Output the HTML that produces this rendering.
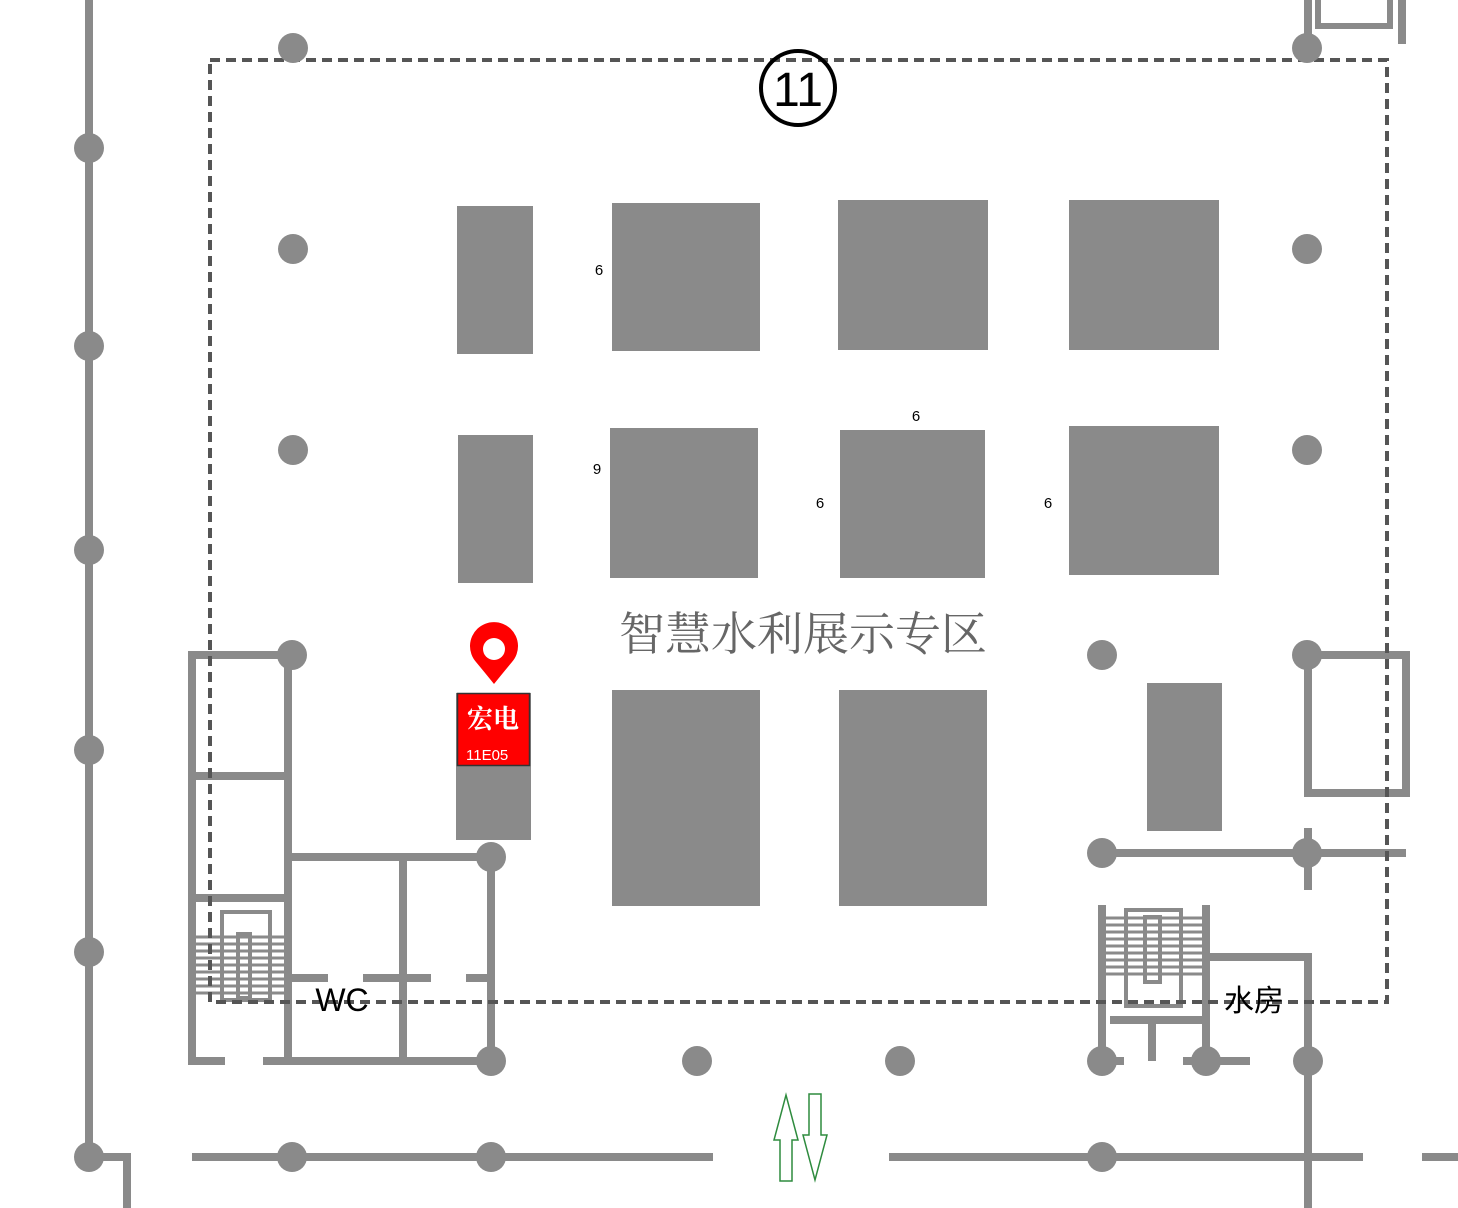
<!DOCTYPE html>
<html><head><meta charset="utf-8"><style>html,body{margin:0;padding:0;background:#fff}svg{display:block}</style></head><body>
<svg width="1458" height="1208" viewBox="0 0 1458 1208" xmlns="http://www.w3.org/2000/svg">
<g stroke="#8a8a8a" stroke-width="8" fill="none">
<line x1="89" y1="0" x2="89" y2="1157"/>
<polyline points="89,1157 127,1157 127,1208"/>
<line x1="192" y1="1157" x2="713" y2="1157"/>
<line x1="889" y1="1157" x2="1363" y2="1157"/>
<line x1="1422" y1="1157" x2="1458" y2="1157"/>
<line x1="1308" y1="1061" x2="1308" y2="1208"/>
<line x1="1308" y1="0" x2="1308" y2="48"/>
<rect x="1318" y="-10" width="72" height="36" stroke-width="6"/>
<line x1="1402" y1="0" x2="1402" y2="44"/>
<polyline points="225,1061 192,1061 192,655 292,655"/>
<line x1="288" y1="655" x2="288" y2="1061"/>
<line x1="192" y1="776" x2="288" y2="776"/>
<line x1="192" y1="898" x2="288" y2="898"/>
<line x1="288" y1="857" x2="491" y2="857"/>
<line x1="491" y1="857" x2="491" y2="1061"/>
<line x1="403" y1="857" x2="403" y2="1061"/>
<line x1="263" y1="1061" x2="491" y2="1061"/>
<line x1="288" y1="978" x2="328" y2="978"/>
<line x1="363" y1="978" x2="431" y2="978"/>
<line x1="466" y1="978" x2="491" y2="978"/>
<line x1="1102" y1="853" x2="1406" y2="853"/>
<line x1="1308" y1="828" x2="1308" y2="890"/>
<polyline points="1308,655 1406,655 1406,793 1308,793 1308,655"/>
<line x1="1102" y1="905" x2="1102" y2="1061"/>
<line x1="1206" y1="905" x2="1206" y2="1061"/>
<line x1="1110" y1="1020" x2="1206" y2="1020"/>
<line x1="1152" y1="1020" x2="1152" y2="1061"/>
<line x1="1102" y1="1061" x2="1124" y2="1061"/>
<line x1="1183" y1="1061" x2="1250" y2="1061"/>
<polyline points="1206,957 1308,957 1308,1061"/>
</g>
<g stroke="#8a8a8a" stroke-width="4" fill="none">
<rect x="222" y="912" width="48" height="88"/>
<rect x="238" y="934" width="12" height="64"/>
<rect x="1126" y="910" width="55" height="96"/>
<rect x="1145" y="917" width="15" height="65"/>
</g>
<g stroke="#8a8a8a" stroke-width="3">
<path d="M196 937H284M196 944H284M196 951H284M196 958H284M196 965H284M196 972H284M196 979H284M196 986H284M196 993H284"/>
<path d="M1106 918H1202M1106 925H1202M1106 932H1202M1106 939H1202M1106 946H1202M1106 953H1202M1106 960H1202M1106 967H1202M1106 974H1202"/>
</g>
<rect x="210" y="60" width="1177" height="942" fill="none" stroke="#555" stroke-width="4" stroke-dasharray="10,6"/>
<g fill="#8a8a8a">
<circle cx="89" cy="148" r="15"/><circle cx="89" cy="346" r="15"/><circle cx="89" cy="550" r="15"/><circle cx="89" cy="750" r="15"/><circle cx="89" cy="952" r="15"/><circle cx="89" cy="1157" r="15"/>
<circle cx="292" cy="1157" r="15"/><circle cx="491" cy="1157" r="15"/><circle cx="1102" cy="1157" r="15"/>
<circle cx="293" cy="48" r="15"/><circle cx="1307" cy="48" r="15"/><circle cx="293" cy="249" r="15"/><circle cx="1307" cy="249" r="15"/><circle cx="293" cy="450" r="15"/><circle cx="1307" cy="450" r="15"/>
<circle cx="292" cy="655" r="15"/><circle cx="1102" cy="655" r="15"/><circle cx="1307" cy="655" r="15"/>
<circle cx="491" cy="857" r="15"/><circle cx="1102" cy="853" r="15"/><circle cx="1307" cy="853" r="15"/>
<circle cx="491" cy="1061" r="15"/><circle cx="697" cy="1061" r="15"/><circle cx="900" cy="1061" r="15"/><circle cx="1102" cy="1061" r="15"/><circle cx="1206" cy="1061" r="15"/><circle cx="1308" cy="1061" r="15"/>
<rect x="457" y="206" width="76" height="148"/><rect x="612" y="203" width="148" height="148"/><rect x="838" y="200" width="150" height="150"/><rect x="1069" y="200" width="150" height="150"/>
<rect x="458" y="435" width="75" height="148"/><rect x="610" y="428" width="148" height="150"/><rect x="840" y="430" width="145" height="148"/><rect x="1069" y="426" width="150" height="149"/>
<rect x="456" y="693" width="75" height="147"/><rect x="612" y="690" width="148" height="216"/><rect x="839" y="690" width="148" height="216"/><rect x="1147" y="683" width="75" height="148"/>
</g>
<rect x="457.5" y="693.5" width="72" height="72" fill="#f00" stroke="#333" stroke-width="1.5"/>
<text x="493" y="728" font-family="Liberation Serif, Noto Serif CJK SC, serif" font-size="26" font-weight="bold" fill="#fff" text-anchor="middle">宏电</text>
<text x="466" y="760" font-family="Liberation Sans, sans-serif" font-size="15" fill="#fff">11E05</text>
<path d="M494 684 Q486 674 476 662 A24 24 0 1 1 512 662 Q502 674 494 684 Z" fill="#f00"/>
<circle cx="494" cy="649" r="11" fill="#fff"/>
<circle cx="798" cy="88" r="37" fill="none" stroke="#000" stroke-width="4"/>
<text x="798" y="106" font-family="Liberation Sans, sans-serif" font-size="48" text-anchor="middle" fill="#000">11</text>
<text x="803" y="650" font-family="Liberation Serif, Noto Serif CJK SC, serif" font-size="46" fill="#666" text-anchor="middle">智慧水利展示专区</text>
<g font-family="Liberation Sans, sans-serif" font-size="15" fill="#000" text-anchor="middle">
<text x="599" y="275">6</text><text x="916" y="421">6</text><text x="597" y="474">9</text><text x="820" y="508">6</text><text x="1048" y="508">6</text>
</g>
<text x="342" y="1011" font-family="Liberation Sans, sans-serif" font-size="32" fill="#000" text-anchor="middle">WC</text>
<text x="1254" y="1011" font-family="Liberation Sans, Noto Sans CJK SC, sans-serif" font-size="30" fill="#000" text-anchor="middle">水房</text>
<g fill="none" stroke="#2e8b3e" stroke-width="1.5">
<path d="M780 1181 L780 1140 L774 1140 L786 1095 L798 1140 L792 1140 L792 1181 Z"/>
<path d="M809 1094 L809 1135 L803 1135 L815 1180 L827 1135 L821 1135 L821 1094 Z"/>
</g>
</svg>
</body></html>
